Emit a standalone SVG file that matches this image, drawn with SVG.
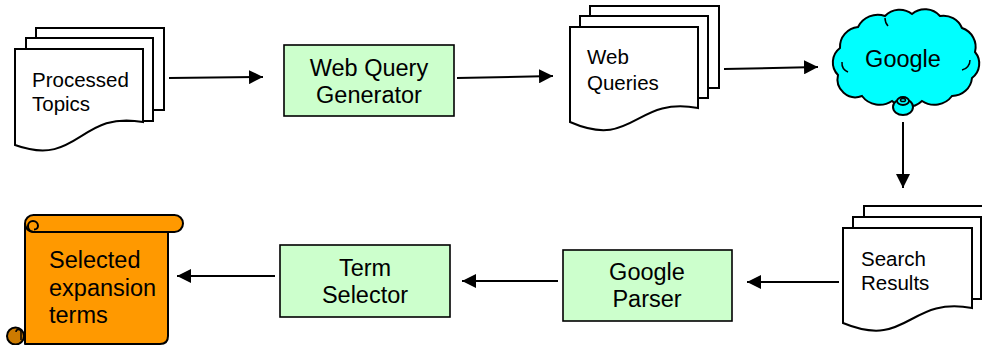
<svg xmlns="http://www.w3.org/2000/svg" width="982" height="345" viewBox="0 0 982 345">
<defs>
<marker id="ah" markerUnits="userSpaceOnUse" markerWidth="15" markerHeight="14" refX="14" refY="7" orient="auto">
<path d="M0,0 L14,7 L0,14 Z" fill="#000"/>
</marker>
<style>
.doc{fill:#fff;stroke:#000;stroke-width:2}
.box{fill:#CCFFCC;stroke:#000;stroke-width:1.6}
.t{font-family:"Liberation Sans",Arial,sans-serif;fill:#000}
.dt{font-size:20.5px}
.bt{font-size:23.5px;text-anchor:middle}
.conn{stroke:#000;stroke-width:2;fill:none;marker-end:url(#ah)}
</style>
</defs>
<rect width="982" height="345" fill="#fff"/>

<g id="processed-topics">
<rect class="doc" x="36" y="28" width="128" height="82"/>
<rect class="doc" x="26" y="38" width="127" height="83"/>
<path class="doc" d="M15,49 H143 V122 C79,110 79,168 15,145 Z"/>
<text class="t dt" x="32" y="87">Processed</text>
<text class="t dt" x="32" y="111">Topics</text>
</g>

<g id="web-query-generator">
<rect class="box" x="284" y="45" width="170" height="71"/>
<text class="t bt" x="369" y="76">Web Query</text>
<text class="t bt" x="369" y="103">Generator</text>
</g>

<g id="web-queries">
<rect class="doc" x="590" y="6" width="129" height="82"/>
<rect class="doc" x="580" y="16" width="128" height="82"/>
<path class="doc" d="M570,27 H698 V108 C634,96 634,150 570,122 Z"/>
<text class="t dt" x="587" y="64">Web</text>
<text class="t dt" x="587" y="90">Queries</text>
</g>

<g id="google">
<path d="M838,75 A18,18 0 0 1 840,48 A20,20 0 0 1 858,27 A22,22 0 0 1 885,16 A20,20 0 0 1 912,14 A20,20 0 0 1 940,16 A20,20 0 0 1 962,28 A20,20 0 0 1 975,52 A18,18 0 0 1 972,78 A20,20 0 0 1 952,96 A22,22 0 0 1 922,101 A22,22 0 0 1 892,101 A22,22 0 0 1 862,96 A18,18 0 0 1 838,75 Z" fill="#00FFFF" stroke="#000" stroke-width="2"/>
<path d="M842,62 A10,10 0 0 0 848,72 M970,60 A10,10 0 0 1 962,70 M885,18 A12,12 0 0 0 888,26" fill="none" stroke="#000" stroke-width="1.5"/>
<ellipse cx="903" cy="107" rx="10" ry="8" fill="#00FFFF" stroke="#000" stroke-width="2"/>
<ellipse cx="903" cy="101" rx="6" ry="4" fill="#00FFFF" stroke="#000" stroke-width="1.8"/>
<ellipse cx="903" cy="100" rx="2.5" ry="1.6" fill="#00FFFF" stroke="#000" stroke-width="1.5"/>
<text class="t bt" x="903" y="67">Google</text>
</g>

<g id="search-results">
<rect class="doc" x="864" y="206" width="130" height="82"/>
<rect class="doc" x="853" y="217" width="128" height="82"/>
<path class="doc" d="M843,228 H972 V308 C908,296 908,350 843,323 Z"/>
<text class="t dt" x="861" y="266">Search</text>
<text class="t dt" x="861" y="290">Results</text>
</g>

<g id="google-parser">
<rect class="box" x="563" y="250" width="169" height="71"/>
<text class="t bt" x="647" y="280">Google</text>
<text class="t bt" x="647" y="307">Parser</text>
</g>

<g id="term-selector">
<rect class="box" x="280" y="245" width="170" height="72"/>
<text class="t bt" x="365" y="276">Term</text>
<text class="t bt" x="365" y="303">Selector</text>
</g>

<g id="selected-expansion-terms">
<path d="M25,224 V344 H160 Q168,344 168,336 V232 H34 Z" fill="#FF9900" stroke="#000" stroke-width="2" stroke-linejoin="round"/>
<path d="M33.5,215 H174.5 A8.5,8.5 0 0 1 174.5,232 H33.5 A8.5,8.5 0 0 1 33.5,215 Z" fill="#FF9900" stroke="#000" stroke-width="2"/>
<path d="M33.5,232 A5.5,5.5 0 0 1 28,226 A5,5 0 0 1 38,226 A4,4 0 0 1 34,229.5" fill="none" stroke="#000" stroke-width="2"/>
<circle cx="15.5" cy="336" r="8.5" fill="#CC7A00" stroke="#000" stroke-width="2"/>
<path d="M16,332 A2.5,2.5 0 0 1 21,332 V340" fill="none" stroke="#000" stroke-width="1.5"/>
<text class="t" style="font-size:23.5px" x="49" y="268">Selected</text>
<text class="t" style="font-size:23.5px" x="49" y="295.5">expansion</text>
<text class="t" style="font-size:23.5px" x="49" y="323">terms</text>
</g>

<g id="connectors">
<line class="conn" x1="169" y1="78" x2="263" y2="77"/>
<line class="conn" x1="457" y1="78" x2="553" y2="76"/>
<line class="conn" x1="724" y1="69" x2="818" y2="67"/>
<line class="conn" x1="903" y1="122" x2="903" y2="188"/>
<line class="conn" x1="839" y1="282" x2="747" y2="282"/>
<line class="conn" x1="558" y1="281" x2="462" y2="281"/>
<line class="conn" x1="275" y1="276" x2="177" y2="276"/>
</g>
</svg>
